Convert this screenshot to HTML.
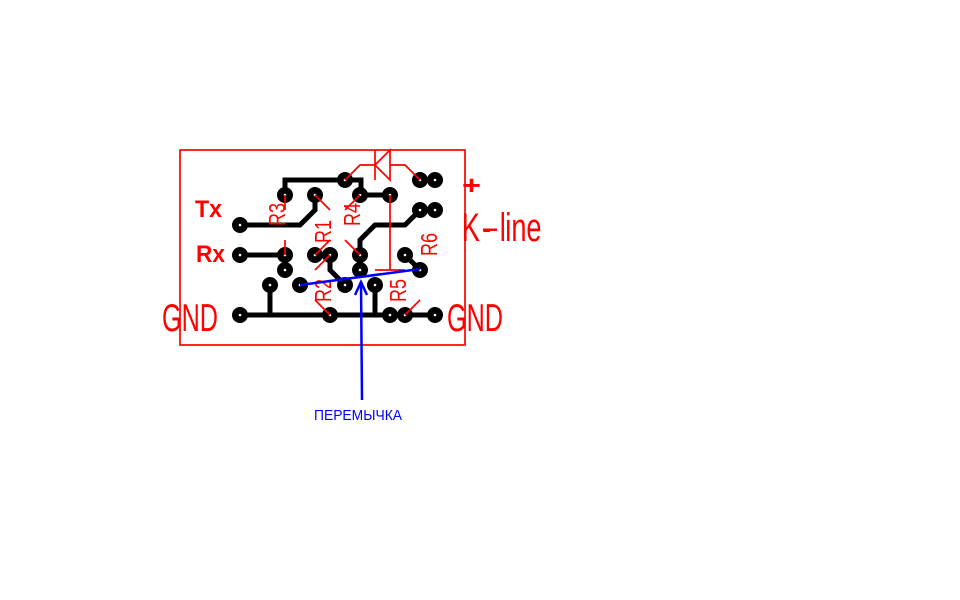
<!DOCTYPE html>
<html>
<head>
<meta charset="utf-8">
<style>
html,body{margin:0;padding:0;background:#fff;width:960px;height:600px;overflow:hidden}
svg{display:block}
text{font-family:"Liberation Sans",sans-serif}
</style>
</head>
<body>
<svg width="960" height="600" viewBox="0 0 960 600" xmlns="http://www.w3.org/2000/svg">
<rect width="960" height="600" fill="#fff"/>
<!-- traces -->
<g fill="none" stroke="#000" stroke-width="5" stroke-linejoin="miter">
<path d="M285 195V180H345H361V195H390"/>
<path d="M240 225H300L315 210V195"/>
<path d="M360 270V240L375 225H405L420 210"/>
<path d="M240 255H285V270"/>
<path d="M270 285V315"/>
<path d="M240 315H435"/>
<path d="M375 285V315"/>
<path d="M330 255V270L345 285"/>
<path d="M405 255L420 270"/>
<path d="M420 180H435M420 210H435"/>
</g>
<!-- pads -->
<g fill="#000">
<circle cx="240" cy="225" r="8"/><circle cx="285" cy="195" r="8"/><circle cx="315" cy="195" r="8"/>
<circle cx="345" cy="180" r="8"/><circle cx="360" cy="195" r="8"/><circle cx="390" cy="195" r="8"/>
<circle cx="420" cy="180" r="8"/><circle cx="435" cy="180" r="8"/><circle cx="420" cy="210" r="8"/><circle cx="435" cy="210" r="8"/>
<circle cx="240" cy="255" r="8"/><circle cx="285" cy="255" r="8"/><circle cx="285" cy="270" r="8"/>
<circle cx="315" cy="255" r="8"/><circle cx="330" cy="255" r="8"/><circle cx="360" cy="255" r="8"/><circle cx="360" cy="270" r="8"/>
<circle cx="405" cy="255" r="8"/><circle cx="420" cy="270" r="8"/>
<circle cx="270" cy="285" r="8"/><circle cx="300" cy="285" r="8"/><circle cx="345" cy="285" r="8"/><circle cx="375" cy="285" r="8"/>
<circle cx="240" cy="315" r="8"/><circle cx="330" cy="315" r="8"/><circle cx="390" cy="315" r="8"/><circle cx="405" cy="315" r="8"/><circle cx="435" cy="315" r="8"/>
</g>
<g fill="#fff">
<circle cx="240" cy="225" r="1.3"/><circle cx="285" cy="195" r="1.3"/><circle cx="315" cy="195" r="1.3"/>
<circle cx="345" cy="180" r="1.3"/><circle cx="360" cy="195" r="1.3"/><circle cx="390" cy="195" r="1.3"/>
<circle cx="420" cy="180" r="1.3"/><circle cx="435" cy="180" r="1.3"/><circle cx="420" cy="210" r="1.3"/><circle cx="435" cy="210" r="1.3"/>
<circle cx="240" cy="255" r="1.3"/><circle cx="285" cy="255" r="1.3"/><circle cx="285" cy="270" r="1.3"/>
<circle cx="315" cy="255" r="1.3"/><circle cx="330" cy="255" r="1.3"/><circle cx="360" cy="255" r="1.3"/><circle cx="360" cy="270" r="1.3"/>
<circle cx="405" cy="255" r="1.3"/><circle cx="420" cy="270" r="1.3"/>
<circle cx="270" cy="285" r="1.3"/><circle cx="300" cy="285" r="1.3"/><circle cx="345" cy="285" r="1.3"/><circle cx="375" cy="285" r="1.3"/>
<circle cx="240" cy="315" r="1.3"/><circle cx="330" cy="315" r="1.3"/><circle cx="390" cy="315" r="1.3"/><circle cx="405" cy="315" r="1.3"/><circle cx="435" cy="315" r="1.3"/>
</g>
<!-- red outline and component lines -->
<g fill="none" stroke="#f00" stroke-width="1.7">
<rect x="180" y="150" width="285" height="195"/>
<path d="M285 195V210"/>
<path d="M315 195L330 210"/>
<path d="M345 180L360 165H375"/>
<path d="M375 150V180M375 165L390 150V180L375 165"/>
<path d="M390 165H405L420 180"/>
<path d="M360 195L345 210"/>
<path d="M390 195V270M375 270H405"/>
<path d="M285 240V255"/>
<path d="M345 240L360 255"/>
<path d="M315 255L330 240"/>
<path d="M315 270L330 255"/>
<path d="M315 300L330 315"/>
<path d="M405 315L420 300"/>
</g>
<!-- red labels -->
<g fill="#f00">
<text x="195" y="217" font-size="24" font-weight="bold" textLength="27" lengthAdjust="spacingAndGlyphs">Tx</text>
<text x="196" y="262" font-size="24" font-weight="bold" textLength="29" lengthAdjust="spacingAndGlyphs">Rx</text>
<text x="162" y="331" font-size="39" textLength="56" lengthAdjust="spacingAndGlyphs">GND</text>
<text x="447" y="331" font-size="39" textLength="56" lengthAdjust="spacingAndGlyphs">GND</text>
<text transform="translate(0 241) scale(0.68 1)" font-size="40" x="679 709 735 743 752 774">K-line</text>
<rect x="483" y="228.5" width="14" height="2.5"/>
<text x="462" y="194" font-size="26" font-weight="bold" textLength="19" lengthAdjust="spacingAndGlyphs">+</text>
<g font-size="23">
<text transform="translate(285 226) rotate(-90)" textLength="23" lengthAdjust="spacingAndGlyphs">R3</text>
<text transform="translate(331 243) rotate(-90)" textLength="23" lengthAdjust="spacingAndGlyphs">R1</text>
<text transform="translate(360 226) rotate(-90)" textLength="23" lengthAdjust="spacingAndGlyphs">R4</text>
<text transform="translate(331 302) rotate(-90)" textLength="23" lengthAdjust="spacingAndGlyphs">R2</text>
<text transform="translate(406 302) rotate(-90)" textLength="23" lengthAdjust="spacingAndGlyphs">R5</text>
<text transform="translate(437 256) rotate(-90)" textLength="23" lengthAdjust="spacingAndGlyphs">R6</text>
</g>
</g>
<!-- blue jumper -->
<g fill="none" stroke="#00f" stroke-width="2.5">
<path d="M300 285L420 269"/>
<path d="M362 400L361 282"/>
<path d="M355 295L361 282L367 295"/>
</g>
<text x="314" y="420" font-size="15" fill="#00f" textLength="88" lengthAdjust="spacingAndGlyphs">ПЕРЕМЫЧКА</text>
</svg>
</body>
</html>
